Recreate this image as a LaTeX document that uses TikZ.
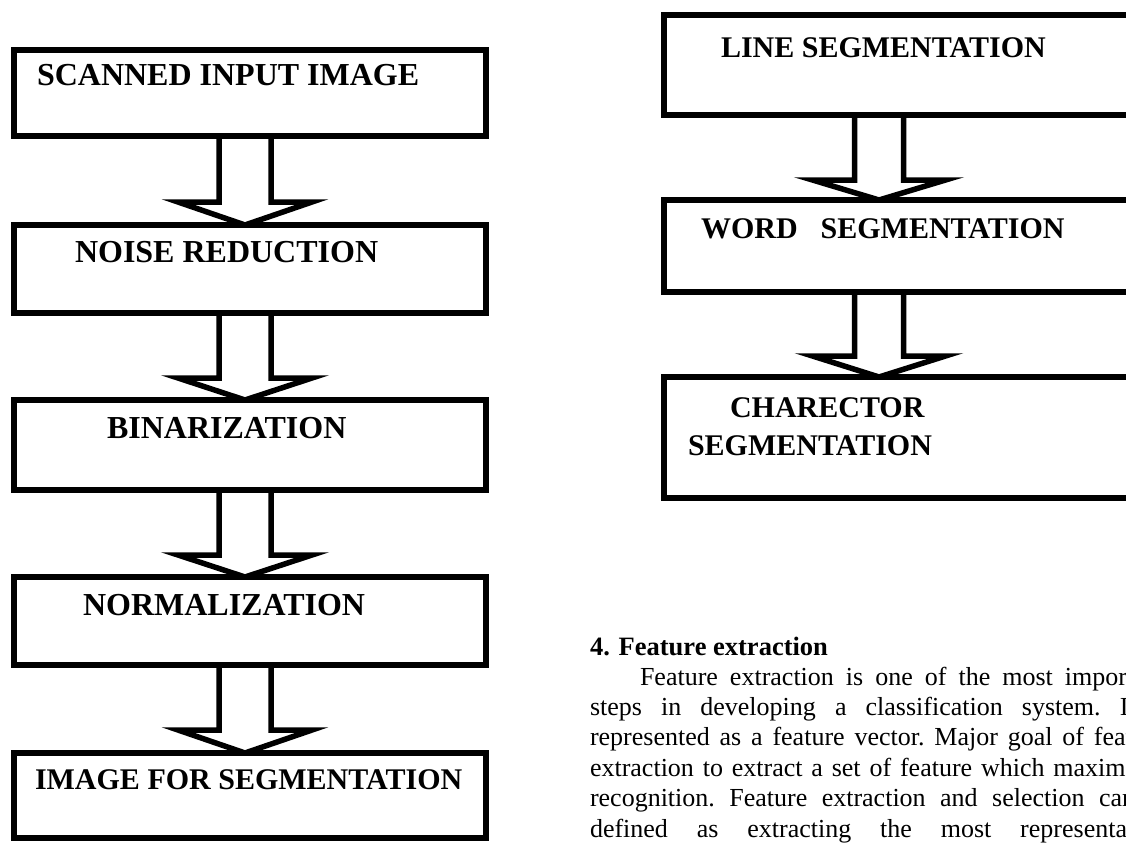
\documentclass[tikz,border=0pt]{standalone}
\usepackage{fontspec}
\setmainfont{Liberation Serif}
\usetikzlibrary{calc}

\tikzset{
  stagebox/.style={draw=black, line width=6pt, outer sep=0pt, inner sep=0pt, rectangle},
  stagetext/.style={anchor=base west, inner sep=0pt, outer sep=0pt,
    font=\bfseries\fontsize{32}{38}\selectfont},
  sidetext/.style={anchor=base west, inner sep=0pt, outer sep=0pt,
    font=\bfseries\fontsize{30}{36}\selectfont},
  hollow/.style={draw=black, line width=5.5pt, line join=miter, miter limit=10},
  headtext/.style={anchor=base west, inner sep=0pt, outer sep=0pt,
    font=\bfseries\fontsize{26.5}{30}\selectfont},
  bodytext/.style={anchor=base west, inner sep=0pt, outer sep=0pt,
    font=\fontsize{26}{30}\selectfont},
}

% one justified line of the text column
\newcommand\colline[2][576pt]{\hbox to #1{\frenchspacing\spaceskip=.25em plus 1fil\relax #2}}

% hollow block arrow from the bottom of #1 to the top of #2 along the axis #3;
% #4 half shaft width, #5 half head width, #6 head height
\newcommand\hollowdown[6]{%
  \draw[hollow]
    ($(#1.south -| #3)+(-#4,0)$) -- ($(#2.north -| #3)+(-#4,-#6)$)
    -- ($(#2.north -| #3)+(-#5,-#6)$) -- (#2.north -| #3)
    -- ($(#2.north -| #3)+(#5,-#6)$) -- ($(#2.north -| #3)+(#4,-#6)$)
    -- ($(#1.south -| #3)+(#4,0)$);}

\begin{document}
\begin{tikzpicture}[x=1pt, y=-1pt]
\useasboundingbox (0,0) rectangle (1126,843);
\clip (0,0) rectangle (1126,843);

% axes of the two arrow columns
\coordinate (axL) at (245,0);
\coordinate (axR) at (879,0);

% left column of stages
\node[stagebox, minimum width=472pt, minimum height=86pt] (s1) at (250,93) {};
\node[stagebox, minimum width=472pt, minimum height=88pt] (s2) at (250,269) {};
\node[stagebox, minimum width=472pt, minimum height=90pt] (s3) at (250,445) {};
\node[stagebox, minimum width=472pt, minimum height=88pt] (s4) at (250,621) {};
\node[stagebox, minimum width=472pt, minimum height=85pt] (s5) at (250,795.5) {};

\node[stagetext] (t1) at (37,85) {SCANNED INPUT IMAGE};
\node[stagetext] (t2) at (75,262) {NOISE REDUCTION};
\node[stagetext] (t3) at (107,438) {BINARIZATION};
\node[stagetext] (t4) at (83,615) {NORMALIZATION};
\node[stagetext, font=\bfseries\fontsize{30}{36}\selectfont] (t5) at (35,789) {IMAGE FOR SEGMENTATION};

\hollowdown{s1}{s2}{axL}{26}{67}{23}
\hollowdown{s2}{s3}{axL}{26}{67}{22}
\hollowdown{s3}{s4}{axL}{26}{67}{22}
\hollowdown{s4}{s5}{axL}{26}{67}{23}

% right column of segmentation stages (running past the right edge)
\node[stagebox, minimum width=536pt, minimum height=100pt] (r1) at (932,65) {};
\node[stagebox, minimum width=536pt, minimum height=92pt] (r2) at (932,246) {};
\node[stagebox, minimum width=536pt, minimum height=121pt] (r3) at (932,437.5) {};

\node[sidetext] (u1) at (721,57) {LINE SEGMENTATION};
\node[sidetext] (u2) at (701,238) {WORD\hspace*{23pt}SEGMENTATION};
\node[sidetext] (u3) at (730,417) {CHARECTOR};
\node[sidetext] (u4) at (688,455) {SEGMENTATION};

\hollowdown{r1}{r2}{axR}{24.5}{66.5}{20}
\hollowdown{r2}{r3}{axR}{24.5}{66.5}{21}

% text column
\node[headtext] (h) at (590,655) {4. Feature extraction};
\node[bodytext] (p1) at (590,685) {\colline{\hspace*{50pt}Feature extraction is one of the most important}};
\node[bodytext] (p2) at (590,715) {\colline[582pt]{steps in developing a classification system. It is}};
\node[bodytext] (p3) at (590,745.5) {\colline{represented as a feature vector. Major goal of feature}};
\node[bodytext] (p4) at (590,776) {\colline{extraction to extract a set of feature which maximizes}};
\node[bodytext] (p5) at (590,806.5) {\colline[584pt]{recognition. Feature extraction and selection can be}};
\node[bodytext] (p6) at (590,837) {\colline{defined as extracting the most representative}};
\end{tikzpicture}
\end{document}
